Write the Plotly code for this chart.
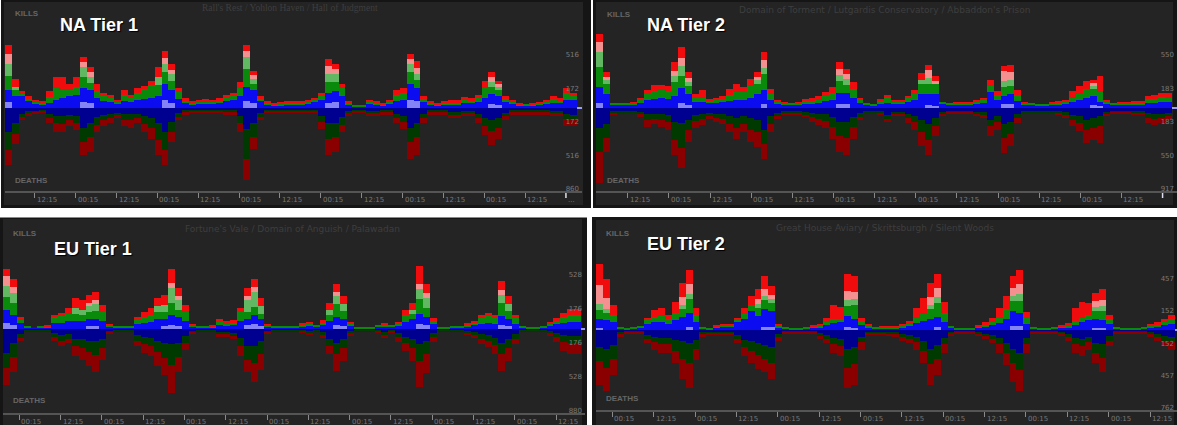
import plotly.graph_objects as go

W, H = 1177, 425

# 2-hour bins across one week (bar centres, hours since the first bin)
HOURS = list(range(1, 168, 2))

NA1_TICK_LABELS = ["12:15", "00:15"] * 6 + ["12:15", "..."]
NA2_TICK_LABELS = ["12:15", "00:15"] * 6 + ["12:15", ""]
EU_TICK_LABELS = ["00:15", "12:15"] * 7
NA1_TICKS = [8.75, 20.75, 32.75, 44.75, 56.75, 68.75, 80.75, 92.75, 104.75, 116.75, 128.75, 140.75, 152.75, 164.75]
NA2_TICKS = [9.25, 21.25, 33.25, 45.25, 57.25, 69.25, 81.25, 93.25, 105.25, 117.25, 129.25, 141.25, 153.25, 165.25]
EU_TICKS = [4.75, 16.75, 28.75, 40.75, 52.75, 64.75, 76.75, 88.75, 100.75, 112.75, 124.75, 136.75, 148.75, 160.75]

# kills per team (totals) and, separately, the part drawn in the pale shade

# ---- NA Tier 1 ----
NA1_K_BLUE = [180,120,120,80,50,40,50,80,100,120, 130,200,180,100,70,60,50,70,60,80,
              90,100,120,250,180,90,50,40,50,50, 50,60,70,80,120,220,180,70,40,30,
              30,40,40,40,50,60,80,150,170,120, 40,20,20,40,40,30,50,70,80,250,
              200,60,40,30,40,40,40,50,50,60, 100,140,120,60,50,30,30,30,40,50,
              50,50,80,80]
NA1_K_GREEN = [270,100,30,20,20,20,60,120,80,60, 90,220,140,70,50,50,20,60,40,70,
               100,140,200,200,170,70,30,20,20,20, 20,20,40,40,80,300,120,30,20,10,
               20,20,20,20,20,30,50,200,180,80, 20,10,10,30,20,10,20,60,70,200,
               150,40,20,10,20,20,20,30,30,40, 100,130,100,40,20,10,10,10,10,20,
               40,30,70,50]
NA1_K_RED = [200,80,20,20,10,10,60,120,140,70, 100,100,100,80,30,20,10,50,30,50,
             40,40,100,130,100,40,20,10,10,20, 10,20,20,30,70,130,80,20,10,10,
             10,10,10,10,10,10,20,150,100,50, 10,0,0,10,10,10,10,50,50,100,
             130,20,10,10,10,20,20,30,20,30, 80,100,60,20,10,10,0,10,10,10,
             30,20,50,20]
NA1_K_BLUE_LT = [60,0,0,0,0,0,0,0,0,0, 0,60,50,0,0,0,0,0,0,0,
                 0,0,0,80,50,0,0,0,0,0, 0,0,0,0,0,70,50,0,0,0,
                 0,0,0,0,0,0,0,50,60,0, 0,0,0,0,0,0,0,0,0,80,
                 70,0,0,0,0,0,0,0,0,0, 0,40,30,0,0,0,0,0,0,0,
                 0,0,0,0]
NA1_K_GREEN_LT = [120,40,0,0,0,0,0,0,0,0, 0,100,60,0,0,0,0,0,0,0,
                  0,0,80,80,70,0,0,0,0,0, 0,0,0,0,0,120,50,0,0,0,
                  0,0,0,0,0,0,0,80,80,0, 0,0,0,0,0,0,0,0,0,80,
                  60,0,0,0,0,0,0,0,0,0, 0,50,40,0,0,0,0,0,0,0,
                  0,0,0,0]
NA1_K_RED_LT = [100,0,0,0,0,0,0,0,0,0, 0,50,50,0,0,0,0,0,0,0,
                0,0,0,60,40,0,0,0,0,0, 0,0,0,0,0,60,40,0,0,0,
                0,0,0,0,0,0,0,80,50,0, 0,0,0,0,0,0,0,0,0,50,
                60,0,0,0,0,0,0,0,0,0, 0,50,30,0,0,0,0,0,0,0,
                0,0,0,0]
NA1_D_BLUE = [250,150,60,40,40,30,60,80,80,70, 80,200,150,90,70,60,50,60,60,60,
              80,100,150,250,140,50,30,30,30,30, 30,30,30,30,80,220,150,50,30,30,
              30,30,30,30,30,30,80,150,150,90, 40,30,30,40,40,30,30,60,80,200,
              150,60,30,30,30,40,40,40,40,60, 100,120,100,50,30,30,30,30,30,30,
              40,40,60,70]
NA1_D_GREEN = [180,120,30,20,10,10,40,70,80,50, 70,150,150,80,50,40,30,60,60,40,
               80,100,180,180,110,40,20,10,10,10, 10,10,20,20,70,300,150,40,10,10,
               10,10,10,10,10,10,60,170,150,80, 20,10,10,20,20,20,20,40,60,150,
               150,40,20,20,20,30,30,20,20,40, 80,120,100,30,20,20,20,20,20,20,
               20,20,50,50]
NA1_D_RED = [150,100,30,20,10,10,50,100,90,60, 80,130,150,80,60,50,20,60,80,50,
             90,120,150,150,100,30,20,10,10,10, 10,10,20,20,100,220,120,30,10,10,
             10,10,10,10,10,10,80,160,150,80, 20,10,10,20,20,20,20,50,80,170,
             180,50,20,20,20,30,30,20,20,50, 100,140,120,40,20,20,20,20,20,20,
             20,20,70,60]

# ---- NA Tier 2 ----
NA2_K_BLUE = [231,154,33,33,33,33,55,88,99,110, 99,132,220,154,66,66,55,55,66,77,
              88,88,110,154,198,88,44,33,33,33, 44,44,55,77,88,165,165,110,55,33,
              22,44,55,44,44,66,88,154,154,154, 44,33,33,33,33,44,55,176,88,132,
              154,77,33,33,22,22,33,33,44,66, 88,110,132,66,44,33,33,33,33,33,
              55,55,66,66]
NA2_K_GREEN = [385,154,11,11,11,11,33,66,88,88, 88,220,242,132,44,44,22,33,33,66,
               88,88,132,154,242,66,22,11,11,11, 33,33,33,55,77,198,154,99,33,11,
               11,33,66,22,22,44,66,154,176,110, 11,11,11,11,11,22,33,66,55,165,
               154,66,11,11,11,11,11,22,22,44, 66,99,110,110,22,11,11,11,22,22,
               44,44,55,44]
NA2_K_RED = [187,88,0,0,0,11,11,44,66,55, 55,154,209,110,44,88,22,22,33,66,
             88,55,77,88,176,55,22,11,0,11, 22,33,44,44,66,143,110,77,11,0,
             0,11,22,11,11,22,44,77,143,88, 0,0,11,11,11,11,22,66,44,165,
             165,55,11,0,0,0,11,11,22,77, 88,88,66,176,22,0,11,11,11,22,
             33,44,44,55]
NA2_K_BLUE_LT = [55,0,0,0,0,0,0,0,0,0, 0,0,55,33,0,0,0,0,0,0,
                 0,0,0,0,44,0,0,0,0,0, 0,0,0,0,0,44,44,0,0,0,
                 0,0,0,0,0,0,0,0,33,22, 0,0,0,0,0,0,0,0,0,44,
                 44,0,0,0,0,0,0,0,0,0, 0,0,33,22,0,0,0,0,0,0,
                 0,0,0,0]
NA2_K_GREEN_LT = [165,44,0,0,0,0,0,0,0,0, 0,66,110,44,0,0,0,0,0,0,
                  0,0,0,44,66,0,0,0,0,0, 0,0,0,0,0,66,66,0,0,0,
                  0,0,0,0,0,0,0,44,66,0, 0,0,0,0,0,0,0,0,0,66,
                  66,0,0,0,0,0,0,0,0,0, 0,0,33,0,0,0,0,0,0,0,
                  0,0,0,0]
NA2_K_RED_LT = [110,33,0,0,0,0,0,0,0,0, 0,55,88,44,0,0,0,0,0,0,
                0,0,0,33,88,0,0,0,0,0, 0,0,0,0,0,66,55,0,0,0,
                0,0,0,0,0,0,0,0,88,33, 0,0,0,0,0,0,0,0,0,110,
                88,0,0,0,0,0,0,0,0,0, 0,0,33,0,0,0,0,0,0,0,
                0,0,0,0]
NA2_D_BLUE = [220,176,33,33,33,33,44,66,66,66, 77,154,165,132,77,66,55,66,66,88,
              110,88,110,132,242,88,55,33,33,33, 44,55,66,66,99,154,154,99,55,33,
              33,33,77,44,44,66,88,132,176,110, 44,33,33,33,33,44,44,132,88,176,
              154,66,33,33,33,33,33,33,44,77, 88,132,110,88,44,33,33,33,33,33,
              55,66,66,55]
NA2_D_GREEN = [264,154,22,11,11,11,22,66,55,66, 77,198,275,110,66,55,33,44,55,88,
               110,88,132,132,154,88,33,22,22,22, 33,44,55,77,110,154,176,110,44,11,
               11,22,44,22,22,44,66,132,176,88, 22,11,11,11,11,22,33,66,66,154,
               132,44,11,11,11,11,11,22,33,55, 77,110,110,110,22,11,11,11,22,22,
               55,55,44,33]
NA2_D_RED = [330,154,11,0,0,0,33,77,55,77, 88,165,220,132,77,66,33,44,55,88,
             121,88,132,165,165,88,33,11,11,11, 22,55,66,77,132,176,187,132,33,0,
             0,11,33,11,22,55,88,154,165,110, 11,11,11,11,11,11,33,110,88,165,
             132,55,0,0,0,0,0,11,33,66, 88,143,132,187,22,11,11,11,11,22,
             55,66,55,44]

# ---- EU Tier 1 ----
EU1_K_BLUE = [200,150,60,20,20,20,20,60,60,80, 80,80,100,100,80,30,20,20,20,50,
              60,70,100,100,140,120,80,30,20,20, 20,40,30,40,80,100,140,100,30,20,
              20,20,20,30,40,30,40,80,120,100, 40,10,10,10,30,30,30,40,70,100,
              160,120,50,10,10,20,20,30,40,50, 60,50,130,100,50,20,10,10,20,40,
              50,60,70,70]
EU1_K_GREEN = [250,220,40,10,0,10,10,60,70,80, 140,120,140,160,100,10,10,10,10,40,
               60,80,140,150,280,180,100,10,10,10, 10,40,30,30,100,200,240,140,10,10,
               10,10,10,20,20,10,30,120,220,160, 20,10,10,10,10,20,10,20,80,100,
               250,200,40,10,10,10,10,20,30,60, 70,60,220,160,60,10,10,10,10,20,
               40,60,80,80]
EU1_K_RED = [170,150,20,0,0,0,10,30,40,60, 100,100,110,120,70,10,0,0,0,30,
             60,70,80,100,200,120,70,10,0,0, 10,20,20,20,40,120,140,80,10,0,
             0,0,0,10,10,0,20,70,130,80, 10,0,0,0,0,10,0,10,50,70,
             240,150,20,0,0,0,0,10,10,30, 40,30,150,80,30,0,0,0,0,10,
             20,50,60,60]
EU1_K_BLUE_LT = [60,40,0,0,0,0,0,0,0,0, 0,0,30,30,0,0,0,0,0,0,
                 0,0,0,30,40,30,0,0,0,0, 0,0,0,0,0,40,50,30,0,0,
                 0,0,0,0,0,0,0,0,40,30, 0,0,0,0,0,0,0,0,0,0,
                 50,40,0,0,0,0,0,0,0,0, 0,0,40,30,0,0,0,0,0,0,
                 0,0,0,0]
EU1_K_GREEN_LT = [120,100,0,0,0,0,0,0,0,0, 60,50,60,70,0,0,0,0,0,0,
                  0,0,60,70,150,100,0,0,0,0, 0,0,0,0,0,120,150,80,0,0,
                  0,0,0,0,0,0,0,50,80,70, 0,0,0,0,0,0,0,0,0,40,
                  100,100,0,0,0,0,0,0,0,0, 0,0,80,70,0,0,0,0,0,0,
                  0,0,0,0]
EU1_K_RED_LT = [100,60,0,0,0,0,0,0,0,0, 0,0,30,40,0,0,0,0,0,0,
                0,0,0,0,60,40,0,0,0,0, 0,0,0,0,0,40,50,0,0,0,
                0,0,0,0,0,0,0,0,40,0, 0,0,0,0,0,0,0,0,0,0,
                60,50,0,0,0,0,0,0,0,0, 0,0,50,0,0,0,0,0,0,0,
                0,0,0,0]
EU1_D_BLUE = [250,150,50,20,20,20,20,40,60,50, 100,100,120,120,100,30,20,20,20,60,
              80,90,120,140,160,140,70,30,20,20, 20,30,30,40,90,180,180,120,30,20,
              20,20,20,20,30,20,30,100,140,100, 30,20,20,20,20,30,20,40,80,100,
              160,120,40,20,20,20,20,30,30,50, 60,90,140,100,50,20,20,20,20,30,
              40,60,70,70]
EU1_D_GREEN = [150,140,40,10,10,10,10,40,60,50, 80,100,120,150,100,10,10,10,10,60,
               80,90,120,160,210,150,70,10,10,10, 10,30,30,30,90,140,170,140,10,10,
               10,10,10,10,20,10,30,80,120,100, 20,10,10,10,10,30,10,40,70,100,
               170,140,40,10,10,10,10,20,30,50, 60,80,120,100,50,10,10,10,10,20,
               40,70,80,80]
EU1_D_RED = [180,160,30,0,0,0,0,40,60,50, 100,120,140,180,120,10,0,0,0,60,
             90,100,140,180,290,160,80,10,0,0, 0,20,20,30,100,130,200,160,10,0,
             0,0,0,10,10,0,30,80,170,130, 20,0,0,0,10,30,10,50,80,130,
             270,200,50,0,0,0,0,10,30,60, 70,90,170,130,60,0,0,0,0,20,
             50,100,110,110]

# ---- EU Tier 2 ----
EU2_K_BLUE = [108,90,72,18,9,18,27,54,72,72, 54,90,126,162,72,18,9,27,36,36,
              72,108,180,135,198,180,27,18,9,9, 18,27,27,45,63,72,135,108,45,27,
              18,18,18,18,27,36,63,81,108,126, 72,27,9,9,9,27,36,45,63,108,
              180,162,54,18,9,9,18,27,27,45, 72,90,108,90,54,18,9,9,9,18,
              27,36,45,54]
EU2_K_GREEN = [135,108,72,9,9,9,9,36,54,63, 45,72,108,180,72,9,9,9,9,9,
               27,45,54,108,126,108,18,9,9,9, 9,9,18,27,36,36,144,180,36,18,
               9,9,9,9,18,27,54,72,126,180, 90,9,9,9,9,9,18,27,54,90,
               144,180,63,9,9,9,9,9,18,36, 45,54,108,135,45,9,9,9,9,9,
               18,18,27,45]
EU2_K_RED = [378,279,90,0,0,0,0,27,63,72, 45,99,207,225,63,0,0,9,9,9,
             18,54,90,144,180,126,9,0,0,0, 0,9,9,45,135,108,252,216,36,9,
             0,9,9,9,9,18,90,144,207,225, 99,0,0,0,0,9,18,45,90,126,
             180,225,54,0,0,0,0,9,18,126, 144,108,135,162,45,0,0,0,0,0,
             9,18,27,45]
EU2_K_BLUE_LT = [18,0,0,0,0,0,0,0,0,0, 0,0,0,27,0,0,0,0,0,0,
                 0,0,0,0,27,27,0,0,0,0, 0,0,0,0,0,0,27,18,0,0,
                 0,0,0,0,0,0,0,0,0,27, 0,0,0,0,0,0,0,0,0,0,
                 36,36,0,0,0,0,0,0,0,0, 0,0,18,18,0,0,0,0,0,0,
                 0,0,0,0]
EU2_K_GREEN_LT = [54,36,0,0,0,0,0,0,0,0, 0,0,36,54,0,0,0,0,0,0,
                  0,0,0,36,45,36,0,0,0,0, 0,0,0,0,0,0,54,54,0,0,
                  0,0,0,0,0,0,0,0,36,54, 0,0,0,0,0,0,0,0,0,0,
                  54,72,0,0,0,0,0,0,0,0, 0,0,36,45,0,0,0,0,0,0,
                  0,0,0,0]
EU2_K_RED_LT = [180,100,0,0,0,0,0,0,0,0, 0,0,72,90,0,0,0,0,0,0,
                0,0,0,45,63,45,0,0,0,0, 0,0,0,0,0,0,90,72,0,0,
                0,0,0,0,0,0,0,0,72,90, 0,0,0,0,0,0,0,0,0,0,
                72,90,0,0,0,0,0,0,0,0, 0,0,54,54,0,0,0,0,0,0,
                0,0,0,0]
EU2_D_BLUE = [162,180,144,27,18,18,18,45,63,72, 72,90,108,126,90,27,27,27,27,27,
              45,90,108,126,144,162,36,18,18,18, 18,18,27,45,72,81,180,162,63,27,
              27,27,27,27,36,45,63,108,180,144, 72,27,18,18,18,27,36,45,72,126,
              180,216,72,18,18,18,18,27,36,72, 81,63,126,135,54,18,18,18,18,18,
              27,36,54,63]
EU2_D_GREEN = [126,180,126,18,9,9,9,36,54,63, 63,108,162,180,90,18,9,9,9,9,
               36,72,90,108,126,144,27,9,9,9, 9,9,27,36,63,72,180,162,54,9,
               9,9,18,18,27,36,54,90,144,126, 63,9,9,9,9,18,27,36,63,90,
               126,162,63,9,9,9,9,9,27,63, 72,54,90,126,45,9,9,9,9,9,
               18,27,45,54]
EU2_D_RED = [225,216,153,18,9,9,9,45,72,81, 81,108,189,243,99,18,9,9,9,9,
             45,81,108,135,126,153,36,9,9,9, 9,9,27,45,81,90,189,189,72,9,
             9,9,9,18,36,45,72,108,189,153, 81,18,9,9,9,9,18,45,81,117,
             180,198,81,9,9,9,9,18,36,81, 90,72,90,135,54,9,9,9,9,9,
             18,36,54,72]

KILL_COLORS = ["#0c0cf0", "#0a8a0a", "#f00c0c"]
KILL_LIGHT = ["#8484f6", "#62b862", "#f59090"]
DEATH_COLORS = ["#000090", "#003a00", "#8a0000"]

PANELS = [
    dict(name="NA Tier 1", maps="Rall's Rest / Yohlon Haven / Hall of Judgment",
         kills=(NA1_K_BLUE, NA1_K_GREEN, NA1_K_RED),
         light=(NA1_K_BLUE_LT, NA1_K_GREEN_LT, NA1_K_RED_LT),
         deaths=(NA1_D_BLUE, NA1_D_GREEN, NA1_D_RED),
         ymax=860, ticks=NA1_TICKS, ticklabels=NA1_TICK_LABELS, now_tick=True),
    dict(name="NA Tier 2", maps="Domain of Torment / Lutgardis Conservatory / Abbaddon's Prison",
         kills=(NA2_K_BLUE, NA2_K_GREEN, NA2_K_RED),
         light=(NA2_K_BLUE_LT, NA2_K_GREEN_LT, NA2_K_RED_LT),
         deaths=(NA2_D_BLUE, NA2_D_GREEN, NA2_D_RED),
         ymax=917, ticks=NA2_TICKS, ticklabels=NA2_TICK_LABELS, now_tick=True),
    dict(name="EU Tier 1", maps="Fortune's Vale / Domain of Anguish / Palawadan",
         kills=(EU1_K_BLUE, EU1_K_GREEN, EU1_K_RED),
         light=(EU1_K_BLUE_LT, EU1_K_GREEN_LT, EU1_K_RED_LT),
         deaths=(EU1_D_BLUE, EU1_D_GREEN, EU1_D_RED),
         ymax=880, ticks=EU_TICKS, ticklabels=EU_TICK_LABELS, now_tick=False),
    dict(name="EU Tier 2", maps="Great House Aviary / Skrittsburgh / Silent Woods",
         kills=(EU2_K_BLUE, EU2_K_GREEN, EU2_K_RED),
         light=(EU2_K_BLUE_LT, EU2_K_GREEN_LT, EU2_K_RED_LT),
         deaths=(EU2_D_BLUE, EU2_D_GREEN, EU2_D_RED),
         ymax=762, ticks=EU_TICKS, ticklabels=EU_TICK_LABELS, now_tick=False),
]

# pixel geometry of each panel: frame, bar area (left, top, right, axis line), axis right end, text spots
GEOM = [
    dict(outer=(1, 0, 591, 208), inner=(4, 2, 583, 205), plot=(5, 24, 577, 192), axis_right=582,
         kills=(13, 13), deaths=(13, 180), big=(58, 25), maps=(290, 8), serif=True),
    dict(outer=(593, 0, 1177, 208), inner=(596, 2, 1173, 205), plot=(596, 24, 1172, 192), axis_right=1177,
         kills=(605, 15), deaths=(605, 180), big=(645, 25), maps=(884, 10), serif=False),
    dict(outer=(0, 217, 587, 425), inner=(3, 219, 582, 425), plot=(3, 244, 581, 414), axis_right=585,
         kills=(11, 233), deaths=(11, 400), big=(52, 249), maps=(292, 229), serif=False),
    dict(outer=(592, 217, 1177, 425), inner=(596, 220, 1174, 425), plot=(596, 249, 1175, 411), axis_right=1177,
         kills=(604, 233), deaths=(604, 398), big=(645, 244), maps=(885, 228), serif=False),
]
PAD = 8  # extra px below the axis line so the lowest deaths label is not clipped


def px_x(v):
    return v / W


def px_y(v):
    return 1 - v / H


def add_bar(vals, col, sfx):
    fig.add_trace(go.Bar(x=HOURS, y=vals, width=2, marker=dict(color=col, line_width=0),
                         xaxis="x" + sfx, yaxis="y" + sfx, showlegend=False, hoverinfo="skip"))


fig = go.Figure()
shapes = []
annotations = []

for n, (p, g) in enumerate(zip(PANELS, GEOM), 1):
    for arr in p["kills"] + p["light"] + p["deaths"]:
        assert len(arr) == len(HOURS), (p["name"], len(arr))
    sfx = "" if n == 1 else str(n)

    blue, green, red = p["kills"]
    blue_lt, green_lt, red_lt = p["light"]
    # kills, bottom to top: pale blue, blue, green, pale green, pink, red
    add_bar(blue_lt, KILL_LIGHT[0], sfx)
    add_bar([t - l for t, l in zip(blue, blue_lt)], KILL_COLORS[0], sfx)
    add_bar([t - l for t, l in zip(green, green_lt)], KILL_COLORS[1], sfx)
    add_bar(green_lt, KILL_LIGHT[1], sfx)
    add_bar(red_lt, KILL_LIGHT[2], sfx)
    add_bar([t - l for t, l in zip(red, red_lt)], KILL_COLORS[2], sfx)
    for vals, col in zip(p["deaths"], DEATH_COLORS):
        add_bar([-v for v in vals], col, sfx)

    x0, y0, x1, y1 = g["plot"]
    xr = g["axis_right"]
    x_end = 168 * (xr - x0) / (x1 - x0)
    m = p["ymax"]
    per_px = 2 * m / (y1 - y0)
    yt = [round(0.6 * m), round(0.2 * m), -round(0.2 * m), -round(0.6 * m), -m]
    fig.update_layout({
        "xaxis" + sfx: dict(
            domain=[px_x(x0), px_x(xr)], range=[0, x_end], anchor="free", position=px_y(y1),
            showgrid=False, zeroline=False, showline=True, linecolor="#555555", linewidth=2,
            ticks="outside", ticklen=5, tickwidth=1, tickcolor="#8a8a8a",
            tickvals=p["ticks"], showticklabels=False,
        ),
        "yaxis" + sfx: dict(
            domain=[px_y(y1 + PAD), px_y(y0)], range=[-m - PAD * per_px, m], anchor="x" + sfx,
            side="right", showgrid=False, showline=False, ticks="", ticklabelposition="inside",
            ticklabelshift=-3,
            tickvals=yt, ticktext=[str(abs(v)) for v in yt],
            tickfont=dict(size=7, color="#7a7a7a", family="DejaVu Sans"),
            zeroline=True, zerolinecolor="#9c9cff", zerolinewidth=2, layer="above traces",
        ),
    })

    # time labels sit just right of their tick, below the axis line
    for tv, tt in zip(p["ticks"], p["ticklabels"]):
        if tt:
            annotations.append(dict(x=tv, y=px_y(y1 + 8), xref="x" + sfx, yref="paper", text=tt,
                                    xanchor="left", yanchor="middle", showarrow=False,
                                    font=dict(size=7, color="#777777", family="DejaVu Sans")))
    if p["now_tick"]:
        shapes.append(dict(type="line", xref="x" + sfx, yref="paper",
                           x0=p["ticks"][-1], x1=p["ticks"][-1], y0=px_y(y1 + 1), y1=px_y(y1 + 6),
                           line=dict(color="#e0e0f0", width=1.5)))

    ox0, oy0, ox1, oy1 = g["outer"]
    ix0, iy0, ix1, iy1 = g["inner"]
    shapes.append(dict(type="rect", xref="paper", yref="paper", layer="below",
                       x0=px_x(ox0), x1=px_x(ox1), y0=px_y(oy1), y1=px_y(oy0),
                       fillcolor="#151515", line_width=0))
    shapes.append(dict(type="rect", xref="paper", yref="paper", layer="below",
                       x0=px_x(ix0), x1=px_x(ix1), y0=px_y(iy1), y1=px_y(iy0),
                       fillcolor="#242424", line_width=0))

    small = dict(size=8, color="#666666", family="Liberation Sans")
    annotations.append(dict(x=px_x(g["kills"][0]), y=px_y(g["kills"][1]), text="<b>KILLS</b>",
                            xref="paper", yref="paper", xanchor="left", yanchor="middle",
                            showarrow=False, font=small))
    annotations.append(dict(x=px_x(g["deaths"][0]), y=px_y(g["deaths"][1]), text="<b>DEATHS</b>",
                            xref="paper", yref="paper", xanchor="left", yanchor="middle",
                            showarrow=False, font=small))
    annotations.append(dict(x=px_x(g["big"][0]), y=px_y(g["big"][1]), text="<b>%s</b>" % p["name"],
                            xref="paper", yref="paper", xanchor="left", yanchor="middle",
                            showarrow=False,
                            font=dict(size=18, color="#ffffff", family="Liberation Sans",
                                      shadow="1px 1px 1px #000000")))
    annotations.append(dict(x=px_x(g["maps"][0]), y=px_y(g["maps"][1]), text=p["maps"],
                            xref="paper", yref="paper", xanchor="center", yanchor="middle",
                            showarrow=False,
                            font=dict(size=9.5 if g["serif"] else 9, color="#3e3e3e",
                                      family="Liberation Serif" if g["serif"] else "DejaVu Sans")))

# thin grey rim along the top of the EU Tier 1 frame
shapes.append(dict(type="line", xref="paper", yref="paper", x0=px_x(0), x1=px_x(587),
                   y0=px_y(217.5), y1=px_y(217.5), line=dict(color="#8a8a8a", width=1)))

fig.update_layout(
    width=W, height=H, margin=dict(l=0, r=0, t=0, b=0),
    paper_bgcolor="#ffffff", plot_bgcolor="#242424",
    barmode="relative", bargap=0,
    shapes=shapes, annotations=annotations,
)

fig.write_html("out.html", config={"displayModeBar": False},
               post_script="document.body.style.margin = '0px';")
